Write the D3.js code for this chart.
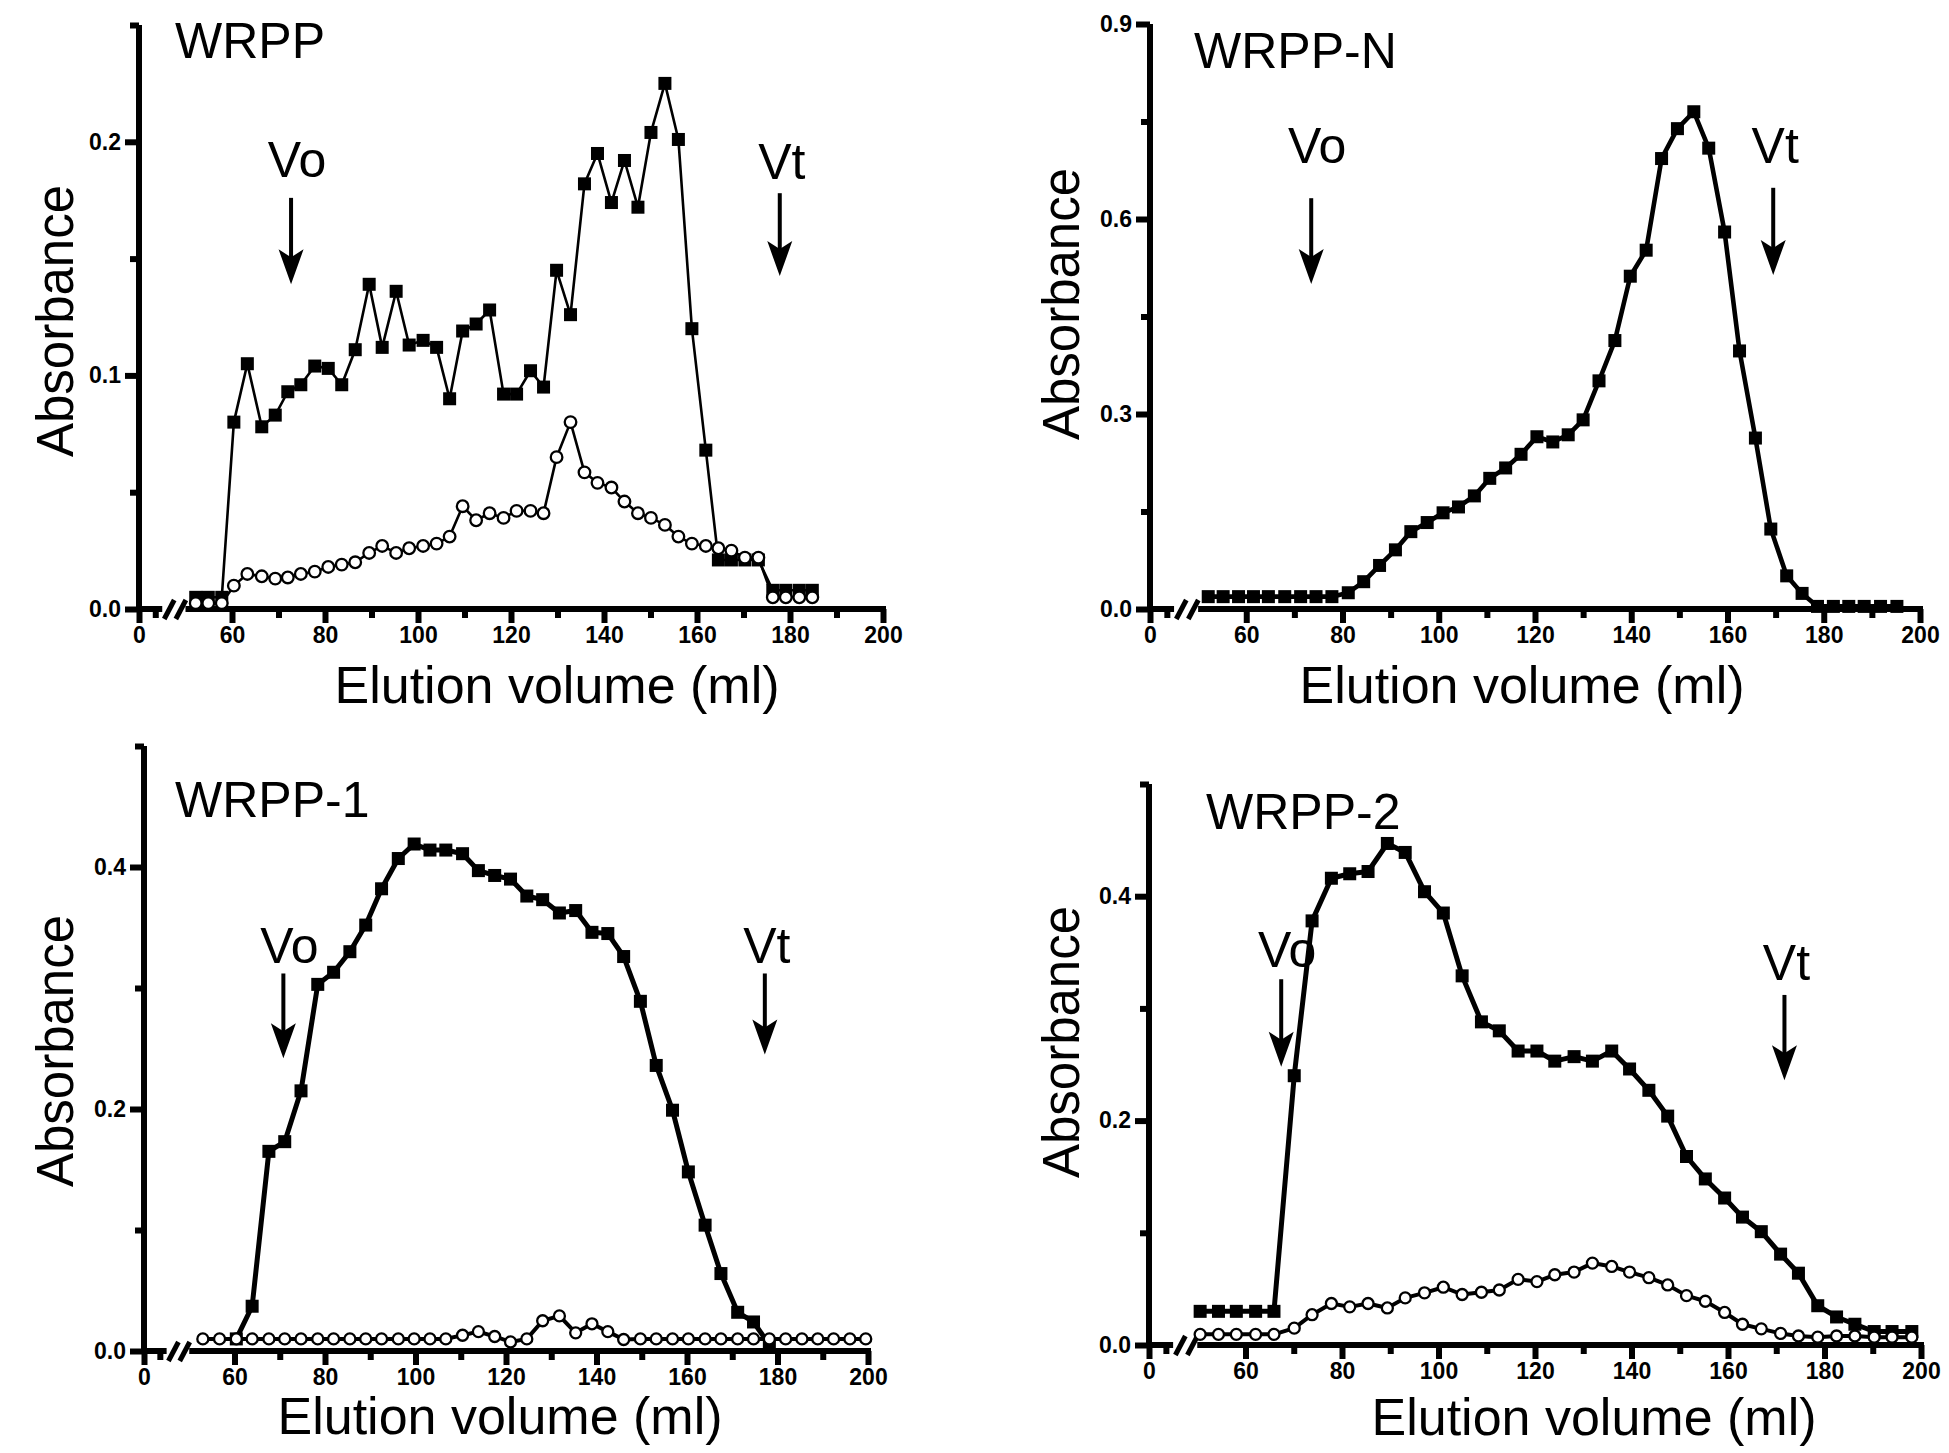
<!DOCTYPE html>
<html>
<head>
<meta charset="utf-8">
<script src="https://cdn.jsdelivr.net/npm/d3@7"></script>
<style>
  body { margin: 0; background: #fff; }
  svg { display: block; }
  .tick text { font-family: "Liberation Sans", Arial, sans-serif; font-weight: bold; font-size: 23px; }
  .big { font-family: "Liberation Sans", Arial, sans-serif; fill: #000; }
</style>
</head>
<body>
<svg id="chart" width="1949" height="1453"></svg>
<script>
// ---- WRPP (thin line, filled squares + open circles)
const wrppVol = [52.2, 54.9, 57.8, 60.4, 63.3, 66.4, 69.3, 72.0, 74.8, 77.8, 80.7, 83.6, 86.5, 89.5, 92.3, 95.3,
  98.1, 101.1, 104.0, 106.8, 109.6, 112.5, 115.4, 118.4, 121.2, 124.2, 127.0, 129.8, 132.8, 135.8, 138.6, 141.6,
  144.4, 147.3, 150.1, 153.1, 156.0, 158.9, 161.9, 164.6, 167.4, 170.3, 173.2, 176.3, 179.1, 182.0, 184.8];
const wrppSquares = [0.005, 0.005, 0.005, 0.080, 0.105, 0.078, 0.083, 0.093, 0.096, 0.104, 0.103, 0.096, 0.111,
  0.139, 0.112, 0.136, 0.113, 0.115, 0.112, 0.090, 0.119, 0.122, 0.128, 0.092, 0.092, 0.102, 0.095, 0.145, 0.126,
  0.182, 0.195, 0.174, 0.192, 0.172, 0.204, 0.225, 0.201, 0.120, 0.068, 0.021, 0.021, 0.021, 0.021,
  0.008, 0.008, 0.008, 0.008];
const wrppCircles = [0.0025, 0.0025, 0.0025, 0.010, 0.015, 0.014, 0.013, 0.0135, 0.015, 0.016, 0.018, 0.019,
  0.020, 0.024, 0.027, 0.024, 0.026, 0.027, 0.028, 0.031, 0.044, 0.038, 0.041, 0.039, 0.042, 0.042, 0.041, 0.065,
  0.080, 0.0585, 0.054, 0.052, 0.046, 0.041, 0.039, 0.036, 0.031, 0.028, 0.027, 0.026, 0.025, 0.022, 0.022,
  0.005, 0.005, 0.005, 0.005];

// ---- WRPP-N (squares only)
const wrppNVol = [52.1, 55.2, 58.4, 61.5, 64.6, 68.0, 71.3, 74.5, 77.8, 81.2, 84.4, 87.7, 91.0, 94.2, 97.6, 100.9,
  104.1, 107.4, 110.6, 113.9, 117.1, 120.4, 123.7, 126.9, 130.0, 133.3, 136.6, 139.8, 143.1, 146.3, 149.6, 153.0,
  156.1, 159.4, 162.5, 165.8, 169.0, 172.3, 175.5, 178.7, 182.0, 185.2, 188.4, 191.8, 195.2];
const wrppNSquares = [0.019, 0.019, 0.019, 0.019, 0.019, 0.019, 0.019, 0.019, 0.019, 0.025, 0.042, 0.067, 0.091,
  0.119, 0.133, 0.148, 0.157, 0.174, 0.201, 0.217, 0.238, 0.265, 0.257, 0.268, 0.291, 0.351, 0.413, 0.512, 0.552,
  0.693, 0.739, 0.765, 0.709, 0.580, 0.397, 0.263, 0.123, 0.051, 0.024, 0.004, 0.004, 0.004, 0.004, 0.004, 0.004];

// ---- WRPP-1
const wrpp1Vol = [53.0, 56.7, 60.4, 63.9, 67.6, 71.1, 74.7, 78.4, 81.9, 85.5, 89.0, 92.5, 96.2, 99.7, 103.2, 106.7,
  110.4, 113.9, 117.5, 121.0, 124.6, 128.1, 131.8, 135.4, 139.0, 142.5, 146.0, 149.7, 153.2, 156.8, 160.3, 164.0,
  167.5, 171.2, 174.7, 178.2, 181.8, 185.4, 188.9, 192.4, 196.0, 199.5];
const wrpp1Circles = [0.010, 0.010, 0.010, 0.010, 0.010, 0.010, 0.010, 0.010, 0.010, 0.010, 0.010, 0.010, 0.010,
  0.010, 0.010, 0.010, 0.013, 0.016, 0.012, 0.0075, 0.010, 0.025, 0.029, 0.015, 0.0225, 0.016, 0.0095,
  0.010, 0.010, 0.010, 0.010, 0.010, 0.010, 0.010, 0.010, 0.010, 0.010, 0.010, 0.010, 0.010, 0.010, 0.010];
const wrpp1SquareVol = [60.4, 63.9, 67.6, 71.1, 74.7, 78.4, 81.9, 85.5, 89.0, 92.5, 96.2, 99.7, 103.2, 106.7,
  110.4, 113.9, 117.5, 121.0, 124.6, 128.1, 131.8, 135.4, 139.0, 142.5, 146.0, 149.7, 153.2, 156.8, 160.3, 164.0,
  167.5, 171.2, 174.7, 178.2];
const wrpp1Squares = [0.010, 0.037, 0.165, 0.173, 0.215, 0.303, 0.313, 0.330, 0.352, 0.382, 0.407, 0.419, 0.414,
  0.414, 0.411, 0.397, 0.393, 0.390, 0.376, 0.373, 0.362, 0.364, 0.346, 0.345, 0.326, 0.289, 0.236, 0.199, 0.148,
  0.104, 0.064, 0.032, 0.024, 0.005];

// ---- WRPP-2
const wrpp2Vol = [50.6, 54.4, 58.1, 62.1, 65.9, 70.1, 73.8, 77.8, 81.6, 85.4, 89.4, 93.1, 97.1, 101.0, 104.9, 108.9,
  112.6, 116.5, 120.4, 124.1, 128.1, 131.9, 135.9, 139.6, 143.6, 147.5, 151.4, 155.3, 159.3, 163.0, 166.9, 170.9,
  174.6, 178.6, 182.5, 186.3, 190.3, 194.0, 198.1];
const wrpp2Squares = [0.030, 0.030, 0.030, 0.030, 0.030, 0.240, 0.378, 0.416, 0.420, 0.422, 0.447, 0.439, 0.404,
  0.385, 0.329, 0.288, 0.280, 0.262, 0.262, 0.253, 0.257, 0.253, 0.262, 0.246, 0.227, 0.204, 0.168, 0.148, 0.131,
  0.114, 0.101, 0.081, 0.064, 0.035, 0.025, 0.0185, 0.012, 0.012, 0.012];
const wrpp2Circles = [0.0095, 0.0095, 0.0095, 0.0095, 0.0095, 0.015, 0.027, 0.037, 0.034, 0.037, 0.033, 0.042,
  0.0465, 0.0515, 0.045, 0.047, 0.049, 0.0585, 0.0565, 0.0626, 0.065, 0.073, 0.070, 0.065, 0.060, 0.0535, 0.044,
  0.039, 0.029, 0.0185, 0.0144, 0.0103, 0.008, 0.007, 0.008, 0.008, 0.007, 0.007, 0.007];

// Vo / Vt volumes (ml) per panel
const voVol = [72.7, 73.5, 70.8, 67.4];
const vtVol = [177.8, 169.5, 177.2, 171.7];

const xMajor = [40, 60, 80, 100, 120, 140, 160, 180, 200];   // 40 is drawn as "0" before the break
const xMinor = [43.5, 70, 90, 110, 130, 150, 170, 190];

const zip = (xs, ys) => xs.map((v, i) => ({ v, a: ys[i] }));

const panels = [
  {
    title: 'WRPP', yMax: 0.25, yMajor: [0, 0.1, 0.2], yMinor: [0.05, 0.15, 0.25],
    box: { left: 139, right: 883, top: 25, bottom: 609 }, lineWidth: 2.6, circleLine: 2.6, r: 5.8,
    squares: zip(wrppVol, wrppSquares), circles: zip(wrppVol, wrppCircles),
    titlePos: [175, 58], absPos: [73, 321], eluPos: [557, 703],
    vo: { text: 0.185, top: 0.176, tip: 0.139 }, vt: { text: 0.184, top: 0.178, tip: 0.1425 }
  },
  {
    title: 'WRPP-N', yMax: 0.9, yMajor: [0, 0.3, 0.6, 0.9], yMinor: [0.15, 0.45, 0.75],
    box: { left: 1150, right: 1920, top: 24, bottom: 609 }, lineWidth: 4.6, circleLine: 4, r: 5.8,
    squares: zip(wrppNVol, wrppNSquares), circles: [],
    titlePos: [1194, 68], absPos: [1079, 304], eluPos: [1522, 703],
    vo: { text: 0.686, top: 0.632, tip: 0.500 }, vt: { text: 0.686, top: 0.648, tip: 0.514 }
  },
  {
    title: 'WRPP-1', yMax: 0.5, yMajor: [0, 0.2, 0.4], yMinor: [0.1, 0.3, 0.5],
    box: { left: 144, right: 868, top: 746, bottom: 1351 }, lineWidth: 5, circleLine: 4, r: 5.5,
    squares: zip(wrpp1SquareVol, wrpp1Squares), circles: zip(wrpp1Vol, wrpp1Circles),
    titlePos: [175, 817], absPos: [73, 1051], eluPos: [500, 1434],
    vo: { text: 0.321, top: 0.312, tip: 0.242 }, vt: { text: 0.321, top: 0.312, tip: 0.245 }
  },
  {
    title: 'WRPP-2', yMax: 0.5, yMajor: [0, 0.2, 0.4], yMinor: [0.1, 0.3, 0.5],
    box: { left: 1149, right: 1921, top: 784, bottom: 1345 }, lineWidth: 5, circleLine: 4, r: 5.5,
    squares: zip(wrpp2Vol, wrpp2Squares), circles: zip(wrpp2Vol, wrpp2Circles),
    titlePos: [1206, 829], absPos: [1079, 1042], eluPos: [1594, 1435],
    vo: { text: 0.337, top: 0.326, tip: 0.248 }, vt: { text: 0.325, top: 0.312, tip: 0.236 }
  }
];

const svg = d3.select('#chart');
const axisWidth = 6;

function styleAxis(axisGroup) {
  axisGroup.select('.domain').remove();
  axisGroup.selectAll('line').attr('stroke-width', axisWidth);
}

function drawArrow(g, x, y, vol, ann, label, dx) {
  const px = x(vol);
  const tip = y(ann.tip);
  g.append('text').attr('class', 'big').attr('x', px + dx).attr('y', y(ann.text))
    .attr('text-anchor', 'middle').attr('font-size', 50).text(label);
  g.append('line').attr('x1', px).attr('x2', px).attr('y1', y(ann.top)).attr('y2', tip - 20)
    .attr('stroke', '#000').attr('stroke-width', 4);
  g.append('path')
    .attr('d', `M${px},${tip} L${px - 12.5},${tip - 35} L${px},${tip - 27} L${px + 12.5},${tip - 35} Z`)
    .attr('fill', '#000');
}

function drawPanel(p, index) {
  const x = d3.scaleLinear().domain([40, 200]).range([p.box.left, p.box.right]);
  const y = d3.scaleLinear().domain([0, p.yMax]).range([p.box.bottom, p.box.top]);
  const g = svg.append('g');

  // y axis
  styleAxis(g.append('g').attr('transform', `translate(${x(40)},0)`)
    .call(d3.axisLeft(y).tickValues(p.yMajor).tickFormat(d3.format('.1f')).tickSize(14).tickPadding(4)));
  styleAxis(g.append('g').attr('transform', `translate(${x(40)},0)`)
    .call(d3.axisLeft(y).tickValues(p.yMinor).tickFormat('').tickSize(9)));
  g.append('line').attr('x1', x(40)).attr('x2', x(40)).attr('y1', y(0)).attr('y2', y(p.yMax))
    .attr('stroke', '#000').attr('stroke-width', axisWidth);

  // x axis with break
  const xAxis = g.append('g').attr('transform', `translate(0,${y(0)})`)
    .call(d3.axisBottom(x).tickValues(xMajor).tickFormat((d) => (d === 40 ? '0' : d)).tickSize(14).tickPadding(4));
  styleAxis(xAxis);
  styleAxis(g.append('g').attr('transform', `translate(0,${y(0)})`)
    .call(d3.axisBottom(x).tickValues(xMinor).tickFormat('').tickSize(9)));
  g.append('line').attr('x1', x(40) - 3).attr('x2', x(45)).attr('y1', y(0)).attr('y2', y(0))
    .attr('stroke', '#000').attr('stroke-width', axisWidth);
  g.append('line').attr('x1', x(50)).attr('x2', x(200) + 3).attr('y1', y(0)).attr('y2', y(0))
    .attr('stroke', '#000').attr('stroke-width', axisWidth);
  [46.5, 49].forEach((b) => {
    g.append('line').attr('x1', x(b) - 5).attr('x2', x(b) + 5)
      .attr('y1', y(0) + 10).attr('y2', y(0) - 9)
      .attr('stroke', '#000').attr('stroke-width', 5);
  });

  // texts
  g.append('text').attr('class', 'big').attr('x', p.titlePos[0]).attr('y', p.titlePos[1])
    .attr('font-size', 50).text(p.title);
  g.append('text').attr('class', 'big').attr('text-anchor', 'middle').attr('font-size', 51)
    .attr('transform', `translate(${p.absPos[0]},${p.absPos[1]}) rotate(-90)`).text('Absorbance');
  g.append('text').attr('class', 'big').attr('text-anchor', 'middle').attr('font-size', 52)
    .attr('x', p.eluPos[0]).attr('y', p.eluPos[1]).text('Elution volume (ml)');

  drawArrow(g, x, y, voVol[index], p.vo, 'Vo', 6);
  drawArrow(g, x, y, vtVol[index], p.vt, 'Vt', 2);

  const line = d3.line().x((d) => x(d.v)).y((d) => y(d.a));
  const size = 13;

  g.append('path').datum(p.squares).attr('d', line)
    .attr('fill', 'none').attr('stroke', '#000').attr('stroke-width', p.lineWidth).attr('stroke-linejoin', 'round');
  g.selectAll('rect.sq').data(p.squares).join('rect').attr('class', 'sq')
    .attr('x', (d) => x(d.v) - size / 2).attr('y', (d) => y(d.a) - size / 2)
    .attr('width', size).attr('height', size).attr('fill', '#000');

  if (p.circles.length) {
    g.append('path').datum(p.circles).attr('d', line)
      .attr('fill', 'none').attr('stroke', '#000').attr('stroke-width', p.circleLine).attr('stroke-linejoin', 'round');
    g.selectAll('circle.ci').data(p.circles).join('circle').attr('class', 'ci')
      .attr('cx', (d) => x(d.v)).attr('cy', (d) => y(d.a)).attr('r', p.r)
      .attr('fill', '#fff').attr('stroke', '#000').attr('stroke-width', 2.3);
  }
}

panels.forEach(drawPanel);
</script>
</body>
</html>
